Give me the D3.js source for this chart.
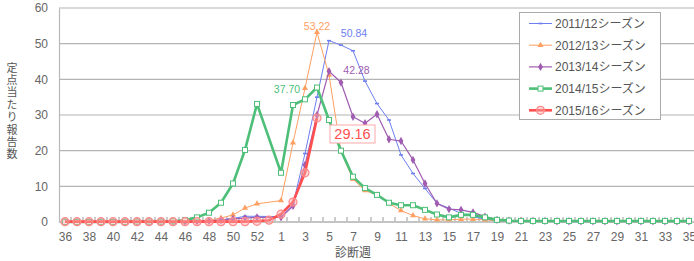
<!DOCTYPE html>
<html>
<head>
<meta charset="utf-8">
<script src="https://cdn.jsdelivr.net/npm/d3@7"></script>
<style>
  body { margin: 0; background: #fff; }
  svg { display: block; font-family: "Liberation Sans", "Noto Sans CJK JP", sans-serif; }
  .cjk { font-family: "Noto Sans CJK JP", sans-serif; }
</style>
</head>
<body>
<div id="chart"></div>
<script>
// diagnosis weeks (2015 had week 53)
var weeks = [36,37,38,39,40,41,42,43,44,45,46,47,48,49,50,51,52,53,
             1,2,3,4,5,6,7,8,9,10,11,12,13,14,15,16,17,18,19,20,21,22,23,24,25,26,27,28,29,30,31,32,33,34,35];
var yTicks = [0,10,20,30,40,50,60];
var seasonNames = ["2011/12シーズン","2012/13シーズン","2013/14シーズン","2014/15シーズン","2015/16シーズン"];
var yTitle = "定点当たり報告数";
var xTitle = "診断週";

var s2011 = [0.0,0.0,0.0,0.0,0.0,0.1,0.1,0.1,0.1,0.2,0.2,0.3,0.4,0.6,1.0,1.6,1.6,null,
             1.5,4.9,19.2,35.0,50.84,49.6,48.0,39.5,33.2,28.6,18.8,13.6,9.4,5.2,3.9,2.4,1.5,0.8,0.4,0.3,0.2,0.2,0.2,0.1,0.1,0.1,0.1,0.1,0.1,0.1,0.1,0.1,0.1,0.1,0.1];
var s2012 = [0.0,0.0,0.0,0.0,0.0,0.0,0.1,0.1,0.1,0.1,0.1,0.3,0.5,1.1,2.0,3.9,5.1,null,
             6.0,22.2,37.5,53.22,41.2,19.7,12.0,8.8,7.6,5.2,3.2,1.8,0.9,0.6,0.6,0.8,0.8,0.6,0.4,0.3,0.5,0.3,0.2,0.2,0.2,0.2,0.1,0.1,0.1,0.1,0.1,0.1,0.1,0.1,0.1];
var s2013 = [0.0,0.0,0.0,0.0,0.0,0.0,0.1,0.1,0.1,0.1,0.1,0.2,0.3,0.5,0.9,1.1,1.3,null,
             1.3,4.5,16.0,30.0,42.28,39.1,29.5,27.7,30.2,23.2,22.7,17.4,10.8,5.2,3.6,3.4,2.7,1.5,0.6,0.4,0.3,0.3,0.3,0.2,0.2,0.2,0.2,0.2,0.2,0.2,0.2,0.2,0.2,0.2,0.2];
var s2014 = [0.0,0.0,0.0,0.0,0.0,0.0,0.1,0.1,0.1,0.2,0.5,1.3,2.6,5.4,10.8,20.2,33.1,null,
             13.8,32.8,34.4,37.70,28.6,20.0,12.7,9.5,7.6,5.4,4.7,4.7,3.4,2.1,1.3,2.0,2.0,1.3,0.6,0.4,0.3,0.3,0.3,0.3,0.3,0.3,0.3,0.3,0.3,0.3,0.3,0.3,0.3,0.3,0.3];
var s2015 = [0.1,0.1,0.1,0.1,0.1,0.1,0.1,0.1,0.1,0.1,0.1,0.1,0.1,0.1,0.1,0.1,0.2,0.5,
             2.2,5.6,13.8,29.16];

var W = 694, H = 261;
var svg = d3.select("#chart").append("svg").attr("width", W).attr("height", H);

var x = d3.scalePoint().domain(d3.range(weeks.length)).range([59, 695]).padding(0.5);
var y = d3.scaleLinear().domain([0, 60]).range([222, 8]);
var step = x.step();

// gridlines
svg.append("g").selectAll("line").data(yTicks.slice(1)).join("line")
    .attr("x1", 59).attr("x2", W)
    .attr("y1", function(d) { return y(d); }).attr("y2", function(d) { return y(d); })
    .attr("stroke", "#b4b4b4").attr("stroke-width", 1.2);

// y axis
var yAxis = svg.append("g").attr("transform", "translate(59,0)")
    .call(d3.axisLeft(y).tickValues(yTicks).tickSize(0).tickPadding(11));
yAxis.select(".domain").attr("stroke", "#b8b8b8").attr("stroke-width", 1.2);
yAxis.selectAll("text").attr("fill", "#666").style("font-size", "12px");

// x axis
var xAxis = svg.append("g").attr("transform", "translate(0,222)")
    .call(d3.axisBottom(x).tickValues(d3.range(0, weeks.length, 2)).tickSize(0).tickPadding(10)
        .tickFormat(function(i) { return weeks[i]; }));
xAxis.select(".domain").remove();
xAxis.selectAll("text").attr("fill", "#666").style("font-size", "12px");

svg.append("line").attr("x1", 59).attr("x2", W).attr("y1", 222).attr("y2", 222)
    .attr("stroke", "#c4c4c4").attr("stroke-width", 2);

// small inward ticks at week boundaries
svg.append("g").selectAll("line").data(d3.range(1, weeks.length + 1)).join("line")
    .attr("x1", function(i) { return x(i - 1) + step / 2; })
    .attr("x2", function(i) { return x(i - 1) + step / 2; })
    .attr("y1", 221).attr("y2", 217)
    .attr("stroke", "#999").attr("stroke-width", 1);

// axis titles
svg.append("text").attr("class", "cjk").attr("x", 353).attr("y", 257).attr("text-anchor", "middle")
    .attr("fill", "#555").style("font-size", "12px").text(xTitle);
svg.append("text").attr("class", "cjk")
    .attr("x", 12).attr("y", 62)
    .style("writing-mode", "vertical-rl").style("letter-spacing", "1.4px")
    .attr("fill", "#555").style("font-size", "11px").text(yTitle);

var series = [
    {name: seasonNames[0], values: s2011, color: "#6d7ef2", width: 1, marker: "dash"},
    {name: seasonNames[1], values: s2012, color: "#ff9f62", width: 1, marker: "triangle"},
    {name: seasonNames[2], values: s2013, color: "#9f5cb0", width: 1.2, marker: "diamond"},
    {name: seasonNames[3], values: s2014, color: "#4dbf78", width: 2.6, marker: "square"},
    {name: seasonNames[4], values: s2015, color: "#ff4f4f", width: 2.6, marker: "circle"}
];

function drawMarker(g, type, color) {
    if (type === "dash") {
        g.append("rect").attr("x", -2).attr("y", -0.8).attr("width", 4).attr("height", 1.6).attr("fill", color);
    } else if (type === "triangle") {
        g.append("path").attr("d", d3.symbol(d3.symbolTriangle, 16)).attr("fill", color);
    } else if (type === "diamond") {
        g.append("path").attr("d", d3.symbol(d3.symbolDiamond, 20)).attr("fill", color);
    } else if (type === "square") {
        g.append("rect").attr("x", -2.5).attr("y", -2.5).attr("width", 5).attr("height", 5)
            .attr("fill", "#fff").attr("stroke", color).attr("stroke-width", 1);
    } else {
        g.append("circle").attr("r", 4).attr("fill", "rgba(255,170,170,0.45)")
            .attr("stroke", "#ff8a8a").attr("stroke-width", 1.2);
    }
}

var line = d3.line()
    .x(function(d) { return x(d.i); })
    .y(function(d) { return y(d.v); });

series.forEach(function(s) {
    var pts = s.values.map(function(v, i) { return {i: i, v: v}; })
        .filter(function(d) { return d.v != null; });
    svg.append("path").datum(pts).attr("d", line)
        .attr("fill", "none").attr("stroke", s.color).attr("stroke-width", s.width)
        .attr("stroke-linejoin", "round");
    svg.append("g").selectAll("g").data(pts).join("g")
        .attr("transform", function(d) { return "translate(" + x(d.i) + "," + y(d.v) + ")"; })
        .each(function() { drawMarker(d3.select(this), s.marker, s.color); });
});

// peak labels
var peakLabels = [
    {s: 1, week: 4, dx: 0, dy: -2},
    {s: 0, week: 5, dx: 25, dy: -4},
    {s: 2, week: 5, dx: 27.5, dy: 3},
    {s: 3, week: 4, dx: -30, dy: 5}
];
peakLabels.forEach(function(p) {
    var i = weeks.indexOf(p.week, 18);
    var v = series[p.s].values[i];
    svg.append("text").attr("x", x(i) + p.dx).attr("y", y(v) + p.dy)
        .attr("text-anchor", "middle").attr("fill", series[p.s].color)
        .style("font-size", "10.5px").text(v.toFixed(2));
});

// current season label in a box
var iLast = s2015.length - 1;
var bx = x(iLast) + 13, by = y(s2015[iLast]) + 7;
svg.append("rect").attr("x", bx).attr("y", by).attr("width", 45).attr("height", 18)
    .attr("fill", "#fff").attr("stroke", "#ffa8a8").attr("stroke-width", 1);
svg.append("text").attr("x", bx + 22.5).attr("y", by + 14).attr("text-anchor", "middle")
    .attr("fill", "#ff4f4f").style("font-size", "14.5px").text(s2015[iLast].toFixed(2));

// legend
var lg = svg.append("g");
lg.append("rect").attr("x", 519.5).attr("y", 12.5).attr("width", 141).attr("height", 107)
    .attr("fill", "#fff").attr("stroke", "#aaa").attr("stroke-width", 1);
series.forEach(function(s, k) {
    var ly = 23.5 + k * 21.7;
    var row = lg.append("g");
    row.append("line").attr("x1", 529).attr("x2", 552).attr("y1", ly).attr("y2", ly)
        .attr("stroke", s.color).attr("stroke-width", s.width);
    drawMarker(row.append("g").attr("transform", "translate(540.5," + ly + ")"), s.marker, s.color);
    row.append("text").attr("x", 555).attr("y", ly + 4.3).attr("fill", "#555")
        .style("font-size", "12px").text(s.name);
});
</script>
</body>
</html>
